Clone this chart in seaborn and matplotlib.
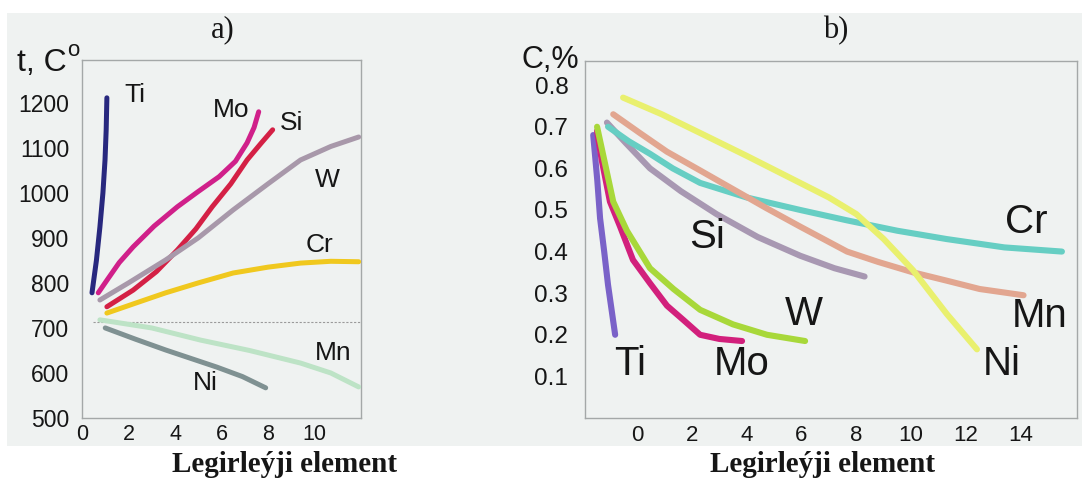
import matplotlib
matplotlib.use("Agg")
import matplotlib.pyplot as plt
from matplotlib.patches import Rectangle
import seaborn as sns

# ---- panel a): temperature vs alloying element ----
a_ti_x = [0.43, 0.62, 0.77, 0.9, 0.99, 1.04, 1.07]
a_ti_y = [778, 850, 924, 1000, 1073, 1140, 1211]
a_mo_x = [0.7, 1.1, 1.6, 2.2, 3.1, 4.1, 5.0, 5.9, 6.6, 7.1, 7.4, 7.6]
a_mo_y = [778, 808, 845, 880, 926, 969, 1003, 1036, 1070, 1111, 1145, 1180]
a_si_x = [1.07, 2.2, 3.2, 4.1, 4.9, 5.6, 6.4, 7.1, 7.7, 8.2]
a_si_y = [747, 784, 825, 873, 920, 969, 1020, 1073, 1110, 1140]
a_w_x = [0.77, 2.0, 3.6, 5.0, 6.5, 8.0, 9.4, 10.7, 11.9]
a_w_y = [762, 800, 851, 900, 962, 1020, 1073, 1103, 1124]
a_cr_x = [1.07, 2.3, 3.6, 5.0, 6.5, 8.0, 9.4, 10.7, 11.9]
a_cr_y = [733, 755, 778, 800, 822, 835, 844, 848, 847]
a_mn_x = [0.77, 3.0, 5.1, 7.2, 9.4, 10.7, 11.9]
a_mn_y = [718, 700, 673, 650, 622, 600, 569]
a_ni_x = [1.0, 2.3, 3.6, 4.7, 5.8, 6.9, 7.9]
a_ni_y = [700, 675, 651, 632, 613, 592, 567]
a_ref_level = 713

a_series = {
    "Ti": (a_ti_x, a_ti_y, "#28287e", (2.27, 1218)),
    "Mo": (a_mo_x, a_mo_y, "#d0208a", (6.4, 1184)),
    "Si": (a_si_x, a_si_y, "#d42045", (9.0, 1156)),
    "W": (a_w_x, a_w_y, "#a898aa", (10.55, 1029)),
    "Cr": (a_cr_x, a_cr_y, "#f0c81e", (10.2, 884)),
    "Mn": (a_mn_x, a_mn_y, "#bde3c6", (10.8, 644)),
    "Ni": (a_ni_x, a_ni_y, "#7f9192", (5.3, 578)),
}
a_xticks = [0, 2, 4, 6, 8, 10]
a_yticks = [500, 600, 700, 800, 900, 1000, 1100, 1200]

# ---- panel b): carbon content vs alloying element ----
b_ti_x = [-1.6, -1.45, -1.35, -1.2, -1.06, -0.93, -0.8]
b_ti_y = [0.68, 0.57, 0.48, 0.40, 0.32, 0.26, 0.20]
b_mo_x = [-1.46, -1.29, -0.99, -0.62, -0.15, 0.47, 1.09, 1.7, 2.3, 3.0, 3.83]
b_mo_y = [0.69, 0.62, 0.52, 0.46, 0.38, 0.324, 0.27, 0.235, 0.20, 0.19, 0.185]
b_w_x = [-1.46, -1.23, -0.87, -0.37, 0.47, 1.33, 2.3, 3.5, 4.74, 6.13]
b_w_y = [0.70, 0.63, 0.52, 0.45, 0.36, 0.31, 0.26, 0.225, 0.20, 0.185]
b_si_x = [-1.1, -0.4, 0.47, 1.6, 2.9, 4.4, 5.95, 7.2, 8.3]
b_si_y = [0.71, 0.66, 0.60, 0.545, 0.49, 0.435, 0.39, 0.36, 0.34]
b_cr_x = [-1.06, -0.3, 0.47, 1.3, 2.3, 4.0, 5.95, 7.66, 9.5, 11.3, 13.4, 15.5]
b_cr_y = [0.70, 0.665, 0.635, 0.60, 0.565, 0.53, 0.50, 0.475, 0.45, 0.43, 0.41, 0.40]
b_mn_x = [-0.87, 0.1, 1.09, 2.3, 3.5, 4.7, 5.95, 7.66, 8.8, 10.07, 11.3, 12.5, 14.1]
b_mn_y = [0.73, 0.685, 0.64, 0.595, 0.55, 0.505, 0.46, 0.40, 0.375, 0.35, 0.33, 0.31, 0.295]
b_ni_x = [-0.51, 0.9, 2.3, 4.0, 5.95, 7.0, 8.0, 9.0, 10.07, 11.3, 12.4]
b_ni_y = [0.77, 0.73, 0.685, 0.63, 0.565, 0.53, 0.49, 0.43, 0.355, 0.25, 0.165]

b_series = {
    "Ti": (b_ti_x, b_ti_y, "#7a62c8", (-0.26, 0.13)),
    "Mo": (b_mo_x, b_mo_y, "#d2207c", (3.8, 0.13)),
    "W": (b_w_x, b_w_y, "#a8d83a", (6.1, 0.25)),
    "Si": (b_si_x, b_si_y, "#a898b2", (2.55, 0.435)),
    "Cr": (b_cr_x, b_cr_y, "#66cec3", (14.2, 0.47)),
    "Mn": (b_mn_x, b_mn_y, "#e2a690", (14.7, 0.245)),
    "Ni": (b_ni_x, b_ni_y, "#e9f06e", (13.3, 0.13)),
}
b_xticks = [0, 2, 4, 6, 8, 10, 12, 14]
b_yticks = [0.1, 0.2, 0.3, 0.4, 0.5, 0.6, 0.7, 0.8]

xlabel = "Legirleýji element"

sns.set_style("white")
plt.rcParams["font.family"] = ["Liberation Sans", "DejaVu Sans"]
bg = "#eff2f1"
spine_col = "#a4a8a8"
ink = "#161616"

fig = plt.figure(figsize=(10.84, 4.79), dpi=100, facecolor="white")
W, H = 1084, 479
fig.patches.append(Rectangle((7 / W, 1 - 446 / H), (1082 - 7) / W, (446 - 13) / H,
                             transform=fig.transFigure, facecolor=bg, edgecolor="none", zorder=-10))

ax_a = fig.add_axes([82 / W, 1 - 418 / H, (361 - 82) / W, (418 - 60) / H])
ax_b = fig.add_axes([585 / W, 1 - 418 / H, (1077 - 585) / W, (418 - 61) / H])


def style_axes(ax, ysize, xsize, ypad, xpad):
    ax.set_facecolor("none")
    for s in ax.spines.values():
        s.set_color(spine_col)
        s.set_linewidth(1.0)
    ax.tick_params(direction="in", length=5, width=0.8, color=spine_col, labelcolor=ink)
    ax.tick_params(axis="y", pad=ypad, labelsize=ysize)
    ax.tick_params(axis="x", pad=xpad, labelsize=xsize)
    ax.set_xlabel("")
    ax.set_ylabel("")


# panel a
ax_a.axhline(a_ref_level, xmin=0.04, xmax=1.0, color="#9a9a9a", lw=0.8, ls=(0, (2, 1.5)), zorder=1)
for name, (xs, ys, col, pos) in a_series.items():
    sns.lineplot(x=xs, y=ys, ax=ax_a, color=col, lw=3.6, sort=False, estimator=None,
                 solid_capstyle="round", solid_joinstyle="round", zorder=3)
    ax_a.text(pos[0], pos[1], name, fontsize=19, ha="center", va="center", color=ink)
ax_a.set_xlim(0, 12)
ax_a.set_ylim(500, 1295)
ax_a.set_xticks(a_xticks)
ax_a.set_yticks(a_yticks)
style_axes(ax_a, 16.5, 15.5, 9, 4)

# panel b
for name, (xs, ys, col, pos) in b_series.items():
    sns.lineplot(x=xs, y=ys, ax=ax_b, color=col, lw=4.4, sort=False, estimator=None,
                 solid_capstyle="round", solid_joinstyle="round", zorder=3)
    ax_b.text(pos[0], pos[1], name, fontsize=29, ha="center", va="center", color=ink)
ax_b.set_xlim(-1.9, 16.05)
ax_b.set_ylim(0, 0.858)
ax_b.set_xticks(b_xticks)
ax_b.set_yticks(b_yticks)
ax_b.set_yticklabels([f"{v:.1f}" for v in b_yticks])
style_axes(ax_b, 17.5, 16, 12, 5)

# axis titles
fig.text(17 / W, 1 - 63 / H, "t, C", fontsize=23, ha="left", va="center", color=ink)
fig.text(67 / W, 1 - 50 / H, "o", fontsize=16, ha="left", va="center", color=ink)
fig.text(579 / W, 1 - 60 / H, "C,%", fontsize=22, ha="right", va="center", color=ink)

# panel letters
serif = ["Liberation Serif", "DejaVu Serif"]
fig.text(223 / W, 1 - 30 / H, "a)", fontsize=22, ha="center", va="center", family=serif, color=ink)
fig.text(836 / W, 1 - 31 / H, "b)", fontsize=22, ha="center", va="center", family=serif, color=ink)

# x labels
fig.text(285 / W, 1 - 464 / H, xlabel, fontsize=21, fontweight="bold", ha="center", va="center",
         family=serif, color=ink)
fig.text(822 / W, 1 - 464 / H, xlabel, fontsize=21, fontweight="bold", ha="center", va="center",
         family=serif, color=ink)

fig.savefig("out.png", dpi=100, facecolor="white")
